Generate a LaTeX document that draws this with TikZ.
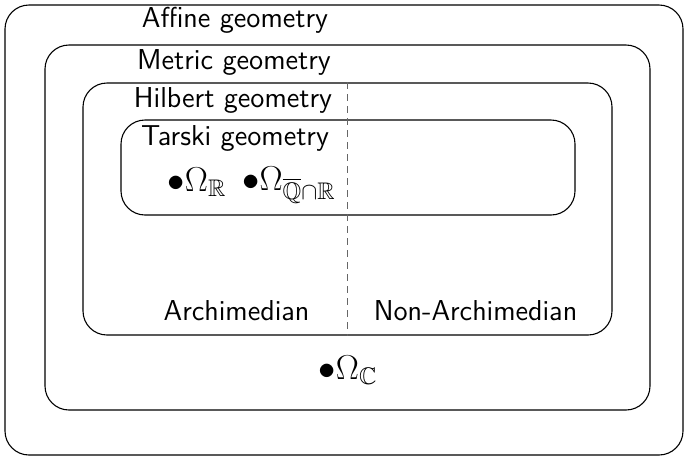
\documentclass[tikz,border=0pt]{standalone}
\usepackage{amsmath}
\usepackage{amssymb}
\usetikzlibrary{positioning}

\begin{document}
\begin{tikzpicture}[
        x=0.5pt, y=-0.5pt,
        % nested region boxes
        region/.style={
            rectangle,
            rounded corners=12pt,
            draw=black,
            line width=0.55pt,
            inner sep=0pt
        },
        % region titles and side labels
        label text/.style={
            font=\Large\sffamily,
            inner sep=1pt
        },
        % model points
        point/.style={
            font=\LARGE,
            inner sep=0pt
        },
        divider/.style={
            dash pattern=on 3.5pt off 2.5pt,
            draw=black!60,
            line width=0.85pt
        }
    ]

    \useasboundingbox (0,0) rectangle (685,457);

    % ===== boxes =====
    \node[region, minimum width=339pt, minimum height=225pt] (affine) at (344,230) {};
    \node[region, minimum width=302.5pt, minimum height=182.5pt] (metric) at (347.5,227.5) {};
    \node[region, minimum width=264.5pt, minimum height=126pt] (hilbert) at (347.5,209) {};
    \node[region, minimum width=227pt, minimum height=47.5pt] (tarski) at (348,167.5) {};

    % ===== archimedian / non-archimedian split =====
    \draw[divider] (hilbert.north) -- (hilbert.south);

    % ===== titles =====
    \node[label text] (affinelbl) at (235,20) {Affine geometry};
    \node[label text] (metriclbl) at (234,62) {Metric geometry};
    \node[label text] (hilbertlbl) at (233,100) {Hilbert geometry};
    \node[label text] (tarskilbl) at (235,138) {Tarski geometry};

    \node[label text] (arch) at (236.5,311) {Archimedian};
    \node[label text] (nonarch) at (475.5,311) {Non-Archimedian};

    % ===== points =====
    \node[point] (omegaR) at (197,182) {$\bullet\Omega_{\mathbb{R}}$};
    \node[point] (omegaQR) at (289,185) {$\bullet\Omega_{\overline{\mathbb{Q}}\cap\mathbb{R}}$};
    \node[point] (omegaC) at (348,370) {$\bullet\Omega_{\mathbb{C}}$};

\end{tikzpicture}
\end{document}
